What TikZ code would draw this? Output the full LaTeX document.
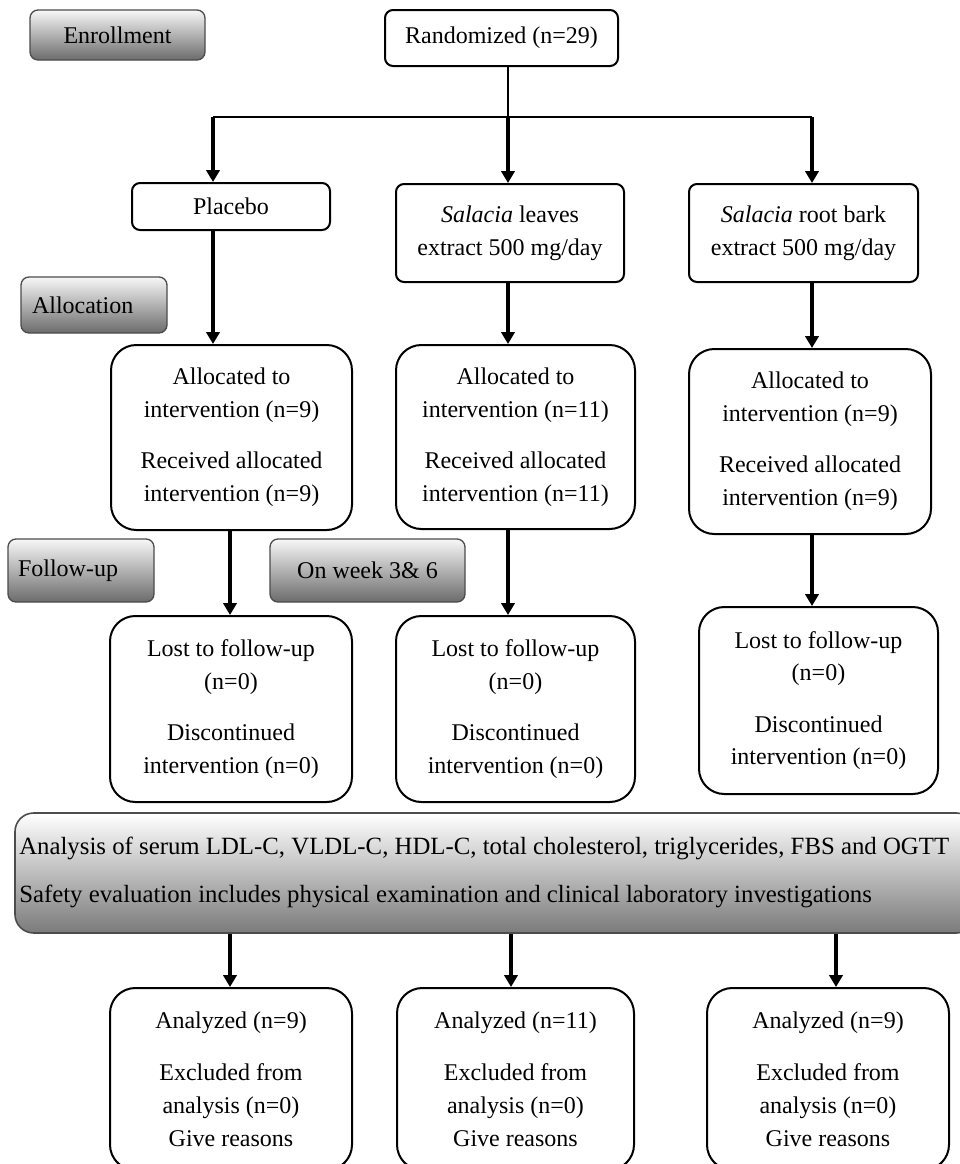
\documentclass[tikz,border=0pt]{standalone}
\usepackage{fontspec}
\setmainfont{Liberation Serif}
\usetikzlibrary{arrows.meta}
\begin{document}
\begin{tikzpicture}[x=0.75pt,y=-0.75pt,
  every node/.style={font=\fontsize{18pt}{24.5pt}\selectfont},
  sbox/.style={draw, line width=1.5pt, rounded corners=6pt, inner sep=0pt, align=center},
  rbox/.style={draw, line width=1.5pt, rounded corners=19pt, inner sep=0pt, align=center},
  glabel/.style={draw=black!70, line width=1pt, rounded corners=6pt, top color=black!3, bottom color=black!58, inner ysep=0pt},
  arr/.style={line width=2.6pt, -{Triangle[width=10pt,length=9pt]}},
  link/.style={line width=1.6pt}]
\useasboundingbox (0,0) rectangle (960,1164);

% grey stage labels
\node[glabel, inner xsep=0pt, minimum width=131.25pt, minimum height=37.5pt] (enroll) at (117.5,35) {Enrollment};
\node[glabel, inner xsep=8.25pt, text width=93pt, align=left, minimum height=42pt] (alloclab) at (94,305) {Allocation};
\node[glabel, inner xsep=7.5pt, text width=94.5pt, align=left, minimum height=47.25pt] (follow) at (81,570.5) {Follow-up};
\node[glabel, inner xsep=0pt, minimum width=146.25pt, minimum height=47.25pt] (week) at (367.5,570.5) {On week 3\& 6};

% top boxes
\node[sbox, minimum width=174.75pt, minimum height=42pt] (rand) at (501.5,38) {Randomized (n=29)};
\node[sbox, minimum width=148.5pt, minimum height=35.25pt] (placebo) at (231,206.5) {Placebo};
\node[sbox, minimum width=171pt, minimum height=73.5pt] (leaves) at (510,233) {\textit{Salacia} leaves\\extract 500 mg/day};
\node[sbox, minimum width=171.75pt, minimum height=73.5pt] (root) at (803.5,233) {\textit{Salacia} root bark\\extract 500 mg/day};

% allocation boxes
\node[rbox, minimum width=180.75pt, minimum height=138.75pt] (alloc1) at (231.5,437.5) {Allocated to\\intervention (n=9)\\[14pt]Received allocated\\intervention (n=9)};
\node[rbox, minimum width=179.25pt, minimum height=138pt] (alloc2) at (515.5,437) {Allocated to\\intervention (n=11)\\[14pt]Received allocated\\intervention (n=11)};
\node[rbox, minimum width=181.5pt, minimum height=138.75pt] (alloc3) at (810,441.5) {Allocated to\\intervention (n=9)\\[14pt]Received allocated\\intervention (n=9)};

% follow-up boxes
\node[rbox, minimum width=181.5pt, minimum height=139.5pt] (lost1) at (231,709) {Lost to follow-up\\(n=0)\\[14pt]Discontinued\\intervention (n=0)};
\node[rbox, minimum width=179.25pt, minimum height=139.5pt] (lost2) at (515.5,709) {Lost to follow-up\\(n=0)\\[14pt]Discontinued\\intervention (n=0)};
\node[rbox, minimum width=179.25pt, minimum height=140.25pt] (lost3) at (818.5,700.5) {Lost to follow-up\\(n=0)\\[14pt]Discontinued\\intervention (n=0)};

% analysis box
\node[draw=black!70, line width=1.2pt, rounded corners=14pt, top color=white, bottom color=black!52, minimum width=720pt, minimum height=90pt, inner sep=0pt] (analysis) at (495,873) {};
\node[anchor=west, align=left, inner sep=0pt, font=\fontsize{18.6pt}{24.5pt}\selectfont] (antext) at (19,872.5) {Analysis of serum LDL-C, VLDL-C, HDL-C, total cholesterol, triglycerides, FBS and OGTT\\[12pt]Safety evaluation includes physical examination and clinical laboratory investigations};

% analyzed boxes
\node[rbox, minimum width=181.5pt, minimum height=136.5pt] (ana1) at (231,1079) {Analyzed (n=9)\\[15pt]Excluded from\\analysis (n=0)\\Give reasons};
\node[rbox, minimum width=177.75pt, minimum height=136.5pt] (ana2) at (515.5,1079) {Analyzed (n=11)\\[15pt]Excluded from\\analysis (n=0)\\Give reasons};
\node[rbox, minimum width=181.5pt, minimum height=136.5pt] (ana3) at (828,1079) {Analyzed (n=9)\\[15pt]Excluded from\\analysis (n=0)\\Give reasons};

% connectors
\coordinate (bl) at (213,117);
\coordinate (bm) at (508,117);
\coordinate (br) at (812,117);
\coordinate (x1) at (230,0);
\coordinate (x2) at (511,0);
\coordinate (x3) at (836,0);

\draw[link] (rand.south -| bm) -- (bm);
\draw[link] (bl) -- (br);
\draw[arr] (bl) -- (placebo.north -| bl);
\draw[arr] (bm) -- (leaves.north -| bm);
\draw[arr] (br) -- (root.north -| br);

\draw[arr] (placebo.south -| bl) -- (alloc1.north -| bl);
\draw[arr] (leaves.south -| bm) -- (alloc2.north -| bm);
\draw[arr] (root.south -| br) -- (alloc3.north -| br);

\draw[arr] (alloc1.south -| x1) -- (lost1.north -| x1);
\draw[arr] (alloc2.south -| bm) -- (lost2.north -| bm);
\draw[arr] (alloc3.south -| br) -- (lost3.north -| br);

\draw[arr] (analysis.south -| x1) -- (ana1.north -| x1);
\draw[arr] (analysis.south -| x2) -- (ana2.north -| x2);
\draw[arr] (analysis.south -| x3) -- (ana3.north -| x3);
\end{tikzpicture}
\end{document}
